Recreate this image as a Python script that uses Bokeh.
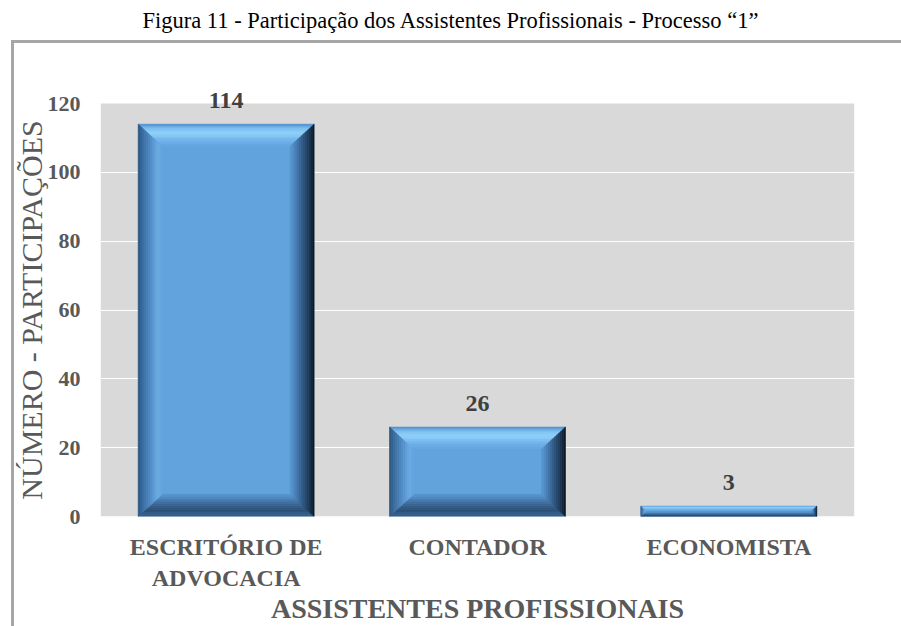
from bokeh.plotting import figure
from bokeh.models import Range1d, FixedTicker, LabelSet, ColumnDataSource, Title
from bokeh.core.properties import value
from bokeh.embed import file_html
from bokeh.resources import INLINE

# ---------------- data ----------------
title_text = "Figura 11 - Participação dos Assistentes Profissionais - Processo \u201c1\u201d"
categories = ["ESCRITÓRIO DE\nADVOCACIA", "CONTADOR", "ECONOMISTA"]
values = [114, 26, 3]
y_ticks = [0, 20, 40, 60, 80, 100, 120]
x_title = "ASSISTENTES PROFISSIONAIS"
y_title = "NÚMERO - PARTICIPAÇÕES"

# ---------------- style ----------------
FONT = "Liberation Serif"
GRAY_TXT = "#595959"
BAR_W = 0.70
BEV_X = 0.095   # bevel depth in category units
BEV_Y = 6.4     # bevel depth in value units
MAIN = "#62a2dd"

top_stops = [(0.0, "#4b89c8"), (0.2, "#7dbdf0"), (0.42, "#93d4fb"), (0.7, "#76b8ed"), (1.0, "#64a5df")]
left_stops = [(0.0, "#2b547e"), (0.2, "#3c6c9e"), (0.55, "#5590ca"), (0.85, "#6cace4"), (1.0, "#64a4de")]
right_stops = [(0.0, "#0b1520"), (0.2, "#1c3450"), (0.5, "#315983"), (0.8, "#4a80b8"), (1.0, "#5c98d1")]
bot_stops = [(0.0, "#3a6591"), (0.3, "#2b4f74"), (0.6, "#3d6b99"), (1.0, "#5b97d0")]


def hex2rgb(h):
    h = h.lstrip("#")
    return tuple(int(h[i:i + 2], 16) for i in (0, 2, 4))


def interp(stops, f):
    for (f0, c0), (f1, c1) in zip(stops[:-1], stops[1:]):
        if f0 <= f <= f1:
            t = 0 if f1 == f0 else (f - f0) / (f1 - f0)
            a, b = hex2rgb(c0), hex2rgb(c1)
            return "#%02x%02x%02x" % tuple(round(a[i] + (b[i] - a[i]) * t) for i in range(3))
    return stops[-1][1]


W, H = 901, 626
FL, FT, FR, FB = 100, 103, 854, 516   # gray plot area on the canvas
FT_EXT = 88                           # frame extends a little above the gray area for the "114" label
px_per_unit = (FB - FT) / (y_ticks[-1] - y_ticks[0])
y_end = y_ticks[-1] + (FT - FT_EXT) / px_per_unit

border_css = {
    "background-image": "linear-gradient(#a6a6a6, #a6a6a6), linear-gradient(#a6a6a6, #a6a6a6)",
    "background-size": "890px 3px, 3px 590px",
    "background-position": "11px 40px, 11px 40px",
    "background-repeat": "no-repeat",
}

p = figure(width=W, height=H, output_backend="svg", toolbar_location=None,
           x_range=Range1d(-0.5, len(categories) - 0.5), y_range=Range1d(y_ticks[0], y_end),
           min_border_left=FL, min_border_right=W - FR, min_border_top=FT_EXT,
           min_border_bottom=H - FB, styles=border_css)

p.background_fill_color = None
p.border_fill_color = None
p.outline_line_color = None
p.xgrid.grid_line_color = None
p.ygrid.grid_line_color = "white"
p.ygrid.grid_line_width = 1
p.ygrid.ticker = FixedTicker(ticks=y_ticks[:-1])

# title: a thin spacer next to the frame pushes the real title up to the top of the page
spacer = Title(text="\u00a0", text_font_size="1px", standoff=53)
main_title = Title(text=title_text, align="left", offset=42, text_font=FONT,
                   text_font_size="22.5px", text_font_style="normal", text_color="black",
                   standoff=0)
p.add_layout(spacer, "above")
p.add_layout(main_title, "above")

xpos = list(range(len(categories)))

# gray plot area, drawn under the grid
p.quad(left=xpos[0] - 0.5, right=xpos[-1] + 0.5, bottom=y_ticks[0], top=y_ticks[-1],
       fill_color="#d9d9d9", line_color=None, level="image")

p.yaxis.ticker = FixedTicker(ticks=y_ticks)
p.xaxis.ticker = FixedTicker(ticks=xpos)
p.xaxis.major_label_overrides = {i: c for i, c in zip(xpos, categories)}

for ax in (p.xaxis[0], p.yaxis[0]):
    ax.axis_line_color = None
    ax.major_tick_line_color = None
    ax.minor_tick_line_color = None
    ax.major_tick_out = 0
    ax.major_tick_in = 0
    ax.major_label_text_font = FONT
    ax.major_label_text_font_style = "bold"
    ax.major_label_text_color = GRAY_TXT
    ax.axis_label_text_font = FONT
    ax.axis_label_text_color = GRAY_TXT

p.yaxis.major_label_text_font_size = "22px"
p.yaxis.major_label_standoff = 20
# two no-break spaces keep the rotated title centred on the gray area rather than the taller frame
p.yaxis.axis_label = y_title + "\u00a0\u00a0"
p.yaxis.axis_label_text_font_size = "30px"
p.yaxis.axis_label_text_font_style = "normal"
p.yaxis.axis_label_standoff = -3

p.xaxis.major_label_text_font_size = "24px"
p.xaxis.major_label_standoff = 17
p.xaxis.axis_label = x_title
p.xaxis.axis_label_text_font_size = "28px"
p.xaxis.axis_label_text_font_style = "bold"
p.xaxis.axis_label_standoff = -1

# main bar faces
p.vbar(x=xpos, top=values, width=BAR_W, fill_color=MAIN, line_color=None)

# bevel bands
N = 12
bx, by, bc = [], [], []
for c, v in zip(xpos, values):
    w = BAR_W / 2
    dy = min(BEV_Y, v * 0.45)
    dx = BEV_X * dy / BEV_Y
    for k in range(N):
        f0, f1 = k / N, (k + 1) / N
        fm = (f0 + f1) / 2
        L0, L1 = c - w + f0 * dx, c - w + f1 * dx
        R0, R1 = c + w - f0 * dx, c + w - f1 * dx
        T0, T1 = v - f0 * dy, v - f1 * dy
        B0, B1 = f0 * dy, f1 * dy
        bx.append([L0, R0, R1, L1]); by.append([T0, T0, T1, T1]); bc.append(interp(top_stops, fm))
        bx.append([L0, R0, R1, L1]); by.append([B0, B0, B1, B1]); bc.append(interp(bot_stops, fm))
        bx.append([L0, L0, L1, L1]); by.append([B0, T0, T1, B1]); bc.append(interp(left_stops, fm))
        bx.append([R0, R0, R1, R1]); by.append([B0, T0, T1, B1]); bc.append(interp(right_stops, fm))

bev = ColumnDataSource(dict(xs=bx, ys=by, color=bc))
p.patches("xs", "ys", source=bev, fill_color="color", line_color="color", line_width=0.6)

# value labels
lab_src = ColumnDataSource(dict(x=xpos, y=values, text=[str(v) for v in values]))
p.add_layout(LabelSet(x="x", y="y", text="text", source=lab_src, y_offset=24,
                      text_align="center", text_baseline="middle", text_font=value(FONT),
                      text_font_style="bold", text_font_size="24px", text_color="#404040"))

open("out.html", "w").write(file_html(p, INLINE))
